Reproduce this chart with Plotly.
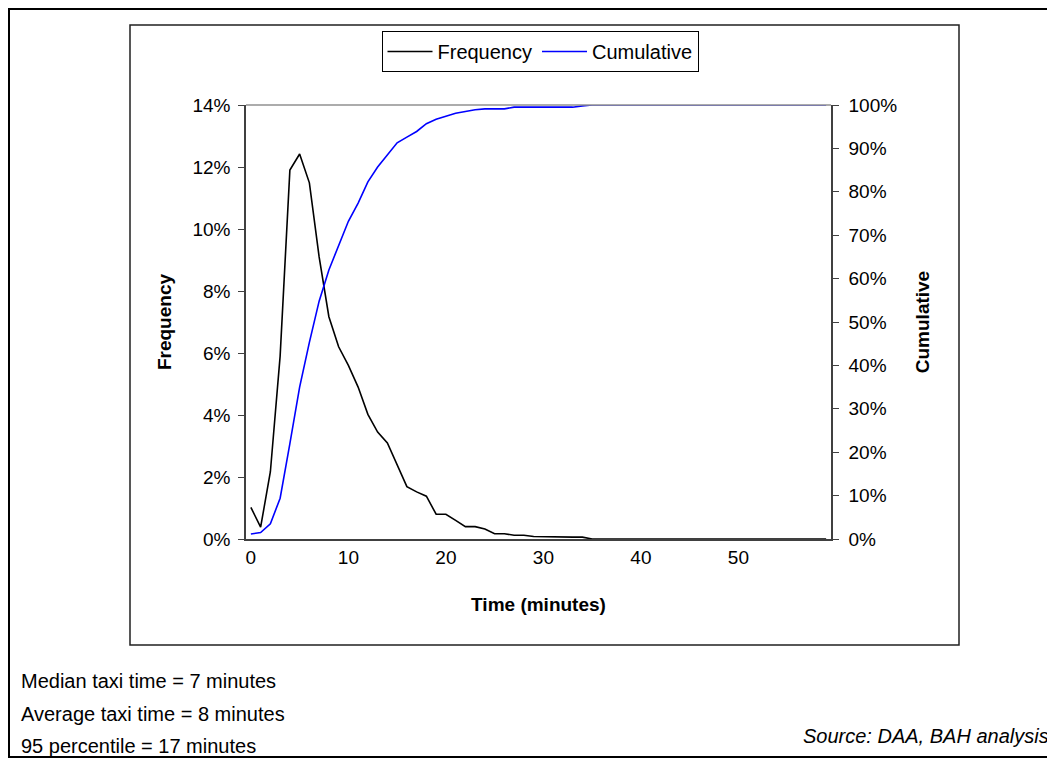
import plotly.graph_objects as go

# ---- data ----
minutes = list(range(0, 60))
frequency_pct = [1.02, 0.38, 2.17, 5.9, 11.9, 12.42, 11.49, 9.1, 7.17, 6.2,
                 5.6, 4.9, 4.02, 3.45, 3.1, 2.39, 1.69, 1.52, 1.38, 0.8,
                 0.8, 0.6, 0.4, 0.4, 0.32, 0.17, 0.17, 0.12, 0.12, 0.08,
                 0.07, 0.07, 0.06, 0.06, 0.06, 0, 0, 0, 0, 0,
                 0, 0, 0, 0, 0, 0, 0, 0, 0, 0,
                 0, 0, 0, 0, 0, 0, 0, 0, 0, 0]
cumulative_pct = [1.15, 1.5, 3.5, 9.4, 22.0, 35.0, 45.3, 54.8, 62.0, 67.7,
                  73.2, 77.4, 82.3, 85.7, 88.6, 91.3, 92.6, 93.9, 95.7, 96.7,
                  97.4, 98.1, 98.5, 98.9, 99.1, 99.1, 99.1, 99.5, 99.5, 99.5,
                  99.5, 99.5, 99.5, 99.5, 99.8, 100, 100, 100, 100, 100,
                  100, 100, 100, 100, 100, 100, 100, 100, 100, 100,
                  100, 100, 100, 100, 100, 100, 100, 100, 100, 100]
x_tick_labels = [0, 10, 20, 30, 40, 50]
x_tick_bounds = [-0.5, 9.5, 19.5, 29.5, 39.5, 49.5, 59.5]
notes = ["Median taxi time = 7 minutes",
         "Average taxi time = 8 minutes",
         "95 percentile = 17 minutes"]
source = "Source: DAA, BAH analysis"

FONT = "Liberation Sans, Arial, sans-serif"
AX = "#404040"

# the page body adds an 8px margin; work in page coordinates and offset
OFF = 8
W, H = 1055 - OFF, 759 - OFF
L, R, T, B = 246 - OFF, 831 - OFF, 105 - OFF, 539 - OFF


def px(x):
    return (x - OFF - L) / (R - L)


def py(y):
    return (B - (y - OFF)) / (B - T)


fig = go.Figure()
fig.add_trace(go.Scatter(x=minutes, y=frequency_pct, mode="lines", name="Frequency",
                         line=dict(color="black", width=1.6), yaxis="y"))
fig.add_trace(go.Scatter(x=minutes, y=cumulative_pct, mode="lines", name="Cumulative",
                         line=dict(color="#0000ff", width=1.6), yaxis="y2"))

xr = [-0.5, 59.5]
common_tick = dict(ticklen=6, tickwidth=1.2, tickcolor=AX)
fig.update_layout(
    width=W, height=H,
    margin=dict(l=L, r=W - R, t=T, b=H - B),
    paper_bgcolor="white", plot_bgcolor="white",
    font=dict(family=FONT, size=19, color="black"),
    xaxis=dict(range=xr, tickmode="array", tickvals=x_tick_labels, ticks="",
               showline=True, linecolor=AX, linewidth=1.5, showgrid=False, zeroline=False,
               tickfont=dict(size=19),
               title=dict(text="<b>Time (minutes)</b>", font=dict(size=19), standoff=31)),
    xaxis2=dict(range=xr, overlaying="x", anchor="y", side="bottom", tickmode="array",
                tickvals=x_tick_bounds, ticks="outside", showticklabels=False,
                showline=False, showgrid=False, zeroline=False, **common_tick),
    xaxis3=dict(range=xr, overlaying="x", anchor="y", side="bottom", tickmode="array",
                tickvals=x_tick_bounds, ticks="inside", showticklabels=False,
                showline=False, showgrid=False, zeroline=False, **common_tick),
    yaxis=dict(range=[0, 14], tickmode="linear", tick0=0, dtick=2, ticksuffix="%",
               ticks="outside", showline=True, linecolor=AX, linewidth=1.5,
               showgrid=False, zeroline=False, ticklabelstandoff=4,
               title=dict(text="<b>Frequency</b>", font=dict(size=19), standoff=16),
               **common_tick),
    yaxis3=dict(range=[0, 14], overlaying="y", anchor="x", side="left", tickmode="linear",
                tick0=0, dtick=2, ticks="inside", showticklabels=False, showline=False,
                showgrid=False, zeroline=False, **common_tick),
    yaxis2=dict(range=[0, 100], overlaying="y", side="right", anchor="x", tickmode="linear",
                tick0=0, dtick=10, ticksuffix="%", ticks="outside", showline=True,
                linecolor=AX, linewidth=1.5, showgrid=False, zeroline=False,
                ticklabelstandoff=6,
                title=dict(text="<b>Cumulative</b>", font=dict(size=19), standoff=19),
                **common_tick),
    yaxis4=dict(range=[0, 100], overlaying="y", anchor="x", side="right", tickmode="linear",
                tick0=0, dtick=10, ticks="inside", showticklabels=False, showline=False,
                showgrid=False, zeroline=False, **common_tick),
    legend=dict(orientation="h", x=px(540), xanchor="center", y=py(31), yanchor="top",
                bordercolor="black", borderwidth=1, bgcolor="white",
                font=dict(size=20), itemwidth=45, tracegroupgap=0),
    showlegend=True,
)

# top edge line of plot area
fig.add_shape(type="line", xref="paper", yref="paper", x0=0, x1=1, y0=1, y1=1,
              line=dict(color="#909090", width=1.5))
# chart box
fig.add_shape(type="rect", xref="paper", yref="paper",
              x0=px(130), x1=px(959), y0=py(645), y1=py(25),
              line=dict(color="#202020", width=1.5), layer="below")
# outer frame
fig.add_shape(type="rect", xref="paper", yref="paper",
              x0=px(OFF + 1), x1=px(1053), y0=py(757), y1=py(OFF + 1),
              line=dict(color="black", width=2), layer="below")

for txt, yy in zip(notes, [681, 714, 746]):
    fig.add_annotation(text=txt, xref="paper", yref="paper", x=px(19), y=py(yy),
                       xanchor="left", yanchor="middle", showarrow=False,
                       font=dict(size=20, family=FONT))
fig.add_annotation(text="<i>" + source + "</i>", xref="paper", yref="paper",
                   x=px(1051), y=py(736), xanchor="right", yanchor="middle",
                   showarrow=False, font=dict(size=20, family=FONT))

fig.write_html("out.html")
